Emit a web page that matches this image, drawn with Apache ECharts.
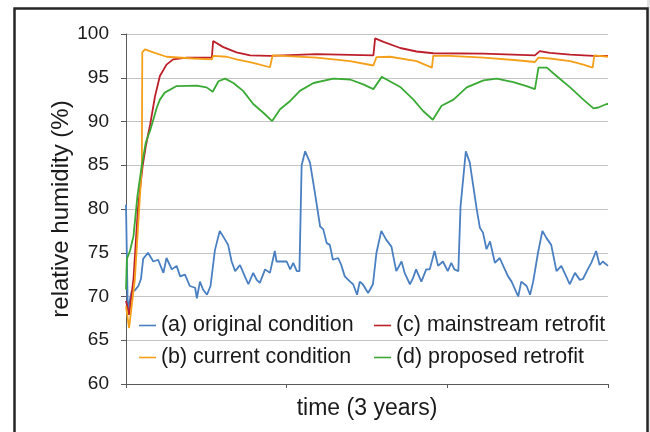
<!DOCTYPE html>
<html>
<head>
<meta charset="utf-8">
<script src="https://cdn.jsdelivr.net/npm/echarts@6/dist/echarts.min.js"></script>
<style>
  html, body { margin: 0; padding: 0; background: #fff; }
  #chart { width: 650px; height: 432px; }
</style>
</head>
<body>
<div id="chart"></div>
<script>
// time axis in days over 3 years, relative humidity in %
var yearTicks = [0, 365, 730, 1095];

var originalCondition = [
  [0, 80.5], [4, 68.5], [7, 68.5], [13, 70.6], [20, 70.7], [28, 71.2], [34, 72.0], [39, 74.3],
  [50, 75.0], [62, 74.0], [73, 74.2], [85, 72.7], [92, 74.4], [104, 73.1], [115, 73.5], [123, 72.3],
  [134, 72.5], [145, 71.2], [157, 71.0], [161, 69.8], [168, 71.7], [175, 70.8], [184, 70.2], [192, 71.2],
  [202, 75.3], [213, 77.5], [225, 76.5], [232, 75.9], [240, 74.0], [248, 72.9], [259, 73.6], [270, 72.3],
  [278, 71.4], [289, 72.7], [297, 71.9], [304, 71.55], [316, 73.1], [327, 72.7], [338, 75.2], [342, 74.0],
  [350, 74.0], [365, 74.0], [373, 73.1], [380, 73.85], [388, 72.9], [394, 72.9], [399, 85.0], [407, 86.6],
  [418, 85.3], [429, 81.9], [441, 78.0], [448, 77.7], [456, 76.1], [463, 75.9], [470, 74.2], [482, 74.4],
  [489, 73.6], [497, 72.3], [509, 71.7], [516, 71.4], [525, 70.2], [531, 71.7], [538, 71.4], [550, 70.4],
  [561, 71.4], [569, 75.0], [580, 77.5], [591, 76.5], [603, 75.7], [614, 72.9], [626, 74.0], [633, 72.7],
  [645, 71.4], [652, 72.1], [659, 73.1], [671, 71.7], [682, 73.1], [690, 73.1], [701, 75.2], [709, 73.5],
  [720, 74.0], [731, 72.9], [739, 73.85], [746, 73.1], [755, 72.9], [760, 80.3], [772, 86.6], [781, 85.3],
  [797, 79.9], [804, 77.85], [811, 77.3], [819, 75.4], [827, 76.3], [838, 73.85], [849, 74.4], [857, 73.5],
  [868, 72.3], [876, 71.7], [891, 70.0], [898, 71.7], [910, 71.2], [918, 70.2], [925, 71.7], [936, 75.0],
  [946, 77.5], [955, 76.7], [966, 75.9], [978, 72.9], [989, 73.5], [1000, 72.3], [1008, 71.4], [1020, 72.7],
  [1031, 71.9], [1038, 72.0], [1049, 73.1], [1057, 73.85], [1068, 75.2], [1076, 73.6], [1083, 74.0], [1095, 73.5]
];

var currentCondition = [
  [0, 68.9], [7, 66.4], [20, 71.9], [36, 85.0], [37, 97.9], [43, 98.25], [62, 97.9], [92, 97.4],
  [153, 97.2], [195, 97.1], [198, 97.5], [229, 97.4], [251, 97.1], [289, 96.7], [327, 96.2], [330, 96.15],
  [333, 97.55], [357, 97.5], [433, 97.3], [509, 96.9], [562, 96.4], [566, 96.35], [569, 97.35], [600, 97.4],
  [660, 96.9], [695, 96.15], [698, 97.5], [736, 97.5], [812, 97.3], [888, 97.0], [929, 96.8], [937, 97.3],
  [963, 97.2], [1009, 96.9], [1039, 96.5], [1060, 96.15], [1064, 97.55], [1095, 97.4]
];

var mainstreamRetrofit = [
  [0, 69.5], [7, 67.9], [17, 72.0], [27, 80.0], [38, 85.0], [45, 87.2], [55, 89.7], [66, 92.9],
  [77, 95.2], [92, 96.5], [107, 97.1], [138, 97.3], [195, 97.3], [198, 99.2], [221, 98.5], [251, 97.9],
  [282, 97.55], [327, 97.5], [433, 97.7], [562, 97.55], [566, 99.5], [585, 99.1], [623, 98.4], [660, 98.0],
  [698, 97.8], [812, 97.75], [929, 97.55], [940, 98.05], [963, 97.85], [1009, 97.65], [1062, 97.5], [1095, 97.5]
];

var proposedRetrofit = [
  [0, 70.8], [2, 74.3], [9, 75.2], [17, 76.9], [26, 81.5], [36, 85.0], [45, 87.6], [55, 89.0],
  [62, 90.2], [70, 91.6], [77, 92.5], [88, 93.3], [115, 94.05], [160, 94.1], [183, 93.9], [197, 93.4],
  [210, 94.6], [225, 94.9], [244, 94.4], [266, 93.5], [289, 92.0], [312, 91.0], [332, 90.05], [350, 91.4],
  [373, 92.35], [395, 93.5], [426, 94.4], [471, 94.9], [509, 94.8], [539, 94.25], [562, 93.7], [581, 95.1],
  [592, 94.8], [623, 93.95], [653, 92.5], [675, 91.2], [697, 90.2], [717, 91.8], [744, 92.5], [774, 93.9],
  [812, 94.7], [842, 94.9], [880, 94.5], [910, 94.05], [929, 93.7], [937, 96.15], [956, 96.15], [978, 95.2],
  [1009, 93.9], [1039, 92.5], [1062, 91.5], [1073, 91.6], [1092, 92.0], [1095, 92.0]
];

var seriesNames = [
  '(a) original condition',
  '(b) current condition',
  '(c) mainstream retrofit',
  '(d) proposed retrofit'
];
var seriesData = [originalCondition, currentCondition, mainstreamRetrofit, proposedRetrofit];
var colors = ['#4a7fc1', '#f5a01a', '#bd1f2a', '#3aaa35'];

var font = 'Liberation Sans, Arial, sans-serif';
var chart = echarts.init(document.getElementById('chart'), null, {renderer: 'canvas'});

function ext(a, b){
  var o = {};
  for (var k in a) o[k] = a[k];
  for (var k2 in b) o[k2] = b[k2];
  return o;
}

var legendBase = {
  orient: 'vertical',
  top: 309,
  icon: 'rect',
  itemWidth: 17,
  itemHeight: 1.6,
  itemGap: 9,
  textStyle: {fontFamily: font, fontSize: 21.4, color: '#1a1a1a', lineHeight: 23}
};

var option = {
  animation: false,
  backgroundColor: '#fff',
  color: colors,
  grid: {left: 126, right: 42, top: 34, bottom: 48, containLabel: false},
  legend: [
    ext(legendBase, {left: 134, data: [seriesNames[0], seriesNames[1]]}),
    ext(legendBase, {left: 369, data: [seriesNames[2], seriesNames[3]]})
  ],
  xAxis: {
    type: 'value',
    min: yearTicks[0],
    max: yearTicks[yearTicks.length - 1],
    interval: 365,
    name: 'time (3 years)',
    nameLocation: 'middle',
    nameGap: 13,
    nameMoveOverlap: false,
    nameTextStyle: {fontFamily: font, fontSize: 23, color: '#1a1a1a', verticalAlign: 'top'},
    axisLine: {lineStyle: {color: '#595959', width: 1}},
    axisTick: {show: true, length: 4, lineStyle: {color: '#595959'}},
    axisLabel: {show: false},
    splitLine: {show: false}
  },
  yAxis: {
    type: 'value',
    min: 60,
    max: 100,
    interval: 5,
    name: 'relative humidity (%)',
    nameLocation: 'middle',
    nameGap: 53,
    nameMoveOverlap: false,
    nameTextStyle: {fontFamily: font, fontSize: 24, color: '#1a1a1a'},
    axisLine: {show: true, lineStyle: {color: '#595959', width: 1}},
    axisTick: {show: true, length: 5, lineStyle: {color: '#595959'}},
    axisLabel: {fontFamily: font, fontSize: 19, color: '#1a1a1a', margin: 17},
    splitLine: {show: true, lineStyle: {color: '#c4c4c4', width: 1}}
  },
  graphic: [
    {type: 'rect', left: 12, top: 6, shape: {width: 633, height: 440},
      style: {fill: 'none', stroke: '#262626', lineWidth: 2.5}, silent: true, z: 100},
    {type: 'rect', left: 647, top: 0, shape: {width: 3, height: 432},
      style: {fill: '#e2e2e2'}, silent: true}
  ],
  series: seriesNames.map(function(name, i){
    return {
      name: name,
      type: 'line',
      data: seriesData[i],
      showSymbol: false,
      symbol: 'none',
      lineStyle: {width: 1.8, color: colors[i]},
      z: [2, 4, 3, 5][i]
    };
  })
};

chart.setOption(option);
</script>
</body>
</html>
